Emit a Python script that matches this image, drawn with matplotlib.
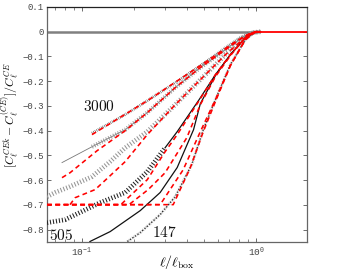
import numpy as np
import matplotlib
matplotlib.use("Agg")
import matplotlib.pyplot as plt
from matplotlib.ticker import FixedLocator, NullFormatter, LogLocator

plt.rcParams['mathtext.fontset'] = 'cm'

# ---------------- data ----------------
# data curves (black / gray)
d1_x = [0.114, 0.177, 0.237, 0.343, 0.478, 0.666, 0.812, 0.927, 1.06]
d1_y = [-0.41, -0.335, -0.279, -0.206, -0.137, -0.065, -0.024, -0.004, 0.0]

d2_x = [0.0767, 0.114, 0.177, 0.237, 0.343, 0.478, 0.666, 0.812, 0.95, 1.06]
d2_y = [-0.529, -0.465, -0.396, -0.327, -0.226, -0.145, -0.073, -0.028, -0.004, 0.0]

d3_x = [0.0629, 0.070, 0.0853, 0.114, 0.145, 0.177, 0.237, 0.343, 0.478, 0.666, 0.812, 0.95, 1.06]
d3_y = [-0.667, -0.650, -0.626, -0.586, -0.525, -0.469, -0.404, -0.295, -0.194, -0.093, -0.040, -0.004, 0.0]

d4_x = [0.0629, 0.0798, 0.127, 0.177, 0.237, 0.300, 0.352, 0.470, 0.583, 0.711, 0.867, 0.991, 1.06]
d4_y = [-0.772, -0.760, -0.691, -0.650, -0.566, -0.469, -0.404, -0.275, -0.174, -0.093, -0.024, 0.0, 0.0]

d5_x = [0.111, 0.145, 0.216, 0.281, 0.352, 0.437, 0.478, 0.583, 0.711, 0.867, 0.991, 1.06]
d5_y = [-0.848, -0.808, -0.723, -0.650, -0.549, -0.396, -0.291, -0.178, -0.093, -0.024, 0.0, 0.0]

d6_x = [0.182, 0.216, 0.281, 0.343, 0.427, 0.497, 0.583, 0.711, 0.867, 0.991, 1.06]
d6_y = [-0.848, -0.812, -0.739, -0.667, -0.537, -0.396, -0.275, -0.133, -0.032, 0.0, 0.0]

# red dashed fits
r1_x = [0.114, 0.237, 0.478, 0.760, 0.927, 1.06]
r1_y = [-0.416, -0.279, -0.137, -0.040, -0.006, 0.0]

r2_x = [0.0767, 0.0853, 0.122, 0.177, 0.237, 0.343, 0.478, 0.666, 0.867, 0.991, 1.06]
r2_y = [-0.590, -0.570, -0.481, -0.400, -0.327, -0.226, -0.145, -0.073, -0.016, 0.0, 0.0]

r3_x = [0.0853, 0.0912, 0.119, 0.141, 0.177, 0.237, 0.343, 0.478, 0.666, 0.812, 0.95, 1.06]
r3_y = [-0.699, -0.671, -0.638, -0.590, -0.525, -0.416, -0.295, -0.194, -0.093, -0.040, -0.004, 0.0]

r4_x = [0.0629, 0.167, 0.237, 0.300, 0.352, 0.470, 0.583, 0.711, 0.867, 0.991, 1.06]
r4_y = [-0.699, -0.699, -0.598, -0.485, -0.416, -0.279, -0.174, -0.093, -0.024, 0.0, 0.0]

r5_x = [0.0629, 0.334, 0.419, 0.497, 0.583, 0.711, 0.867, 0.991, 1.06]
r5_y = [-0.699, -0.699, -0.549, -0.404, -0.283, -0.137, -0.032, 0.0, 0.0]

r6_x = [0.0629, 0.186, 0.240, 0.300, 0.400, 0.478, 0.583, 0.711, 0.867, 0.991, 1.06]
r6_y = [-0.699, -0.699, -0.638, -0.570, -0.428, -0.295, -0.182, -0.097, -0.024, 0.0, 0.0]

r7_x = [0.0629, 0.281, 0.381, 0.478, 0.583, 0.711, 0.867, 0.991, 1.06]
r7_y = [-0.699, -0.699, -0.558, -0.404, -0.275, -0.137, -0.032, 0.0, 0.0]

zero_gray_x = [0.0629, 1.0]
zero_red_x = [1.0, 1.96]
zero_y = [0.0, 0.0]

y_ticks = [0.1, 0.0, -0.1, -0.2, -0.3, -0.4, -0.5, -0.6, -0.7, -0.8]
y_labels = ['0.1', '0', '\u22120.1', '\u22120.2', '\u22120.3', '\u22120.4',
            '\u22120.5', '\u22120.6', '\u22120.7', '\u22120.8']
x_ticks = [0.1, 1.0]
x_labels = [r'$\mathregular{10^{-1}}$', r'$\mathregular{10^{0}}$']

labels = ['3000', '505', '147']
label_x = [0.125, 0.0645, 0.296]
label_y = [-0.303, -0.822, -0.812]

# ---------------- figure ----------------
fig = plt.figure(figsize=(3.46, 2.74), dpi=100)
ax = fig.add_axes([47/346, 32/274, 260/346, 235/274])
ax.set_xscale('log')
ax.set_xlim(0.0629, 1.96)
ax.set_ylim(-0.85, 0.1)

gray = '#959595'
hatch = (0, (0.22, 0.42))

# zero lines
ax.plot(zero_gray_x, zero_y, color='#808080', lw=1.8, zorder=2)
ax.plot(zero_red_x, zero_y, color='red', lw=1.3, zorder=6)

# data curves
ax.plot(d1_x, d1_y, color='#555', lw=2.0, ls=hatch, zorder=3)

ax.plot(d2_x, d2_y, color='#777', lw=0.6, zorder=3)
ax.plot(d2_x[1:], d2_y[1:], color=gray, lw=3.0, ls=hatch, zorder=3)

ax.plot(d3_x, d3_y, color=gray, lw=3.4, ls=hatch, zorder=3)

ax.plot(d4_x[:6], d4_y[:6], color='#222', lw=3.4, ls=hatch, zorder=3)
ax.plot(d4_x[5:], d4_y[5:], color='#111', lw=0.9, zorder=3)

ax.plot(d5_x, d5_y, color='#111', lw=0.9, zorder=3)

ax.plot(d6_x, d6_y, color='#222', lw=1.0, ls=(0, (1, 1.2)), zorder=3)
ax.plot(d6_x, d6_y, color=gray, lw=2.2, ls=hatch, alpha=0.5, zorder=3)

# red fits
rdash = (0, (3.0, 2.2))
for rx, ry in [(r1_x, r1_y), (r2_x, r2_y), (r3_x, r3_y), (r4_x, r4_y),
               (r5_x, r5_y), (r6_x, r6_y), (r7_x, r7_y)]:
    ax.plot(rx, ry, color='red', lw=1.15, ls=rdash, zorder=5)

# text labels
for t, lx, ly in zip(labels, label_x, label_y):
    ax.text(lx, ly, '$' + t + '$', fontsize=11, ha='left' if t == '505' else 'center',
            va='center', color='#111')

# axes styling
ax.set_yticks(y_ticks)
ax.set_yticklabels(y_labels, fontfamily='Liberation Mono', fontsize=6.5, color='#444')
ax.xaxis.set_major_locator(FixedLocator(x_ticks))
ax.set_xticklabels(x_labels, fontfamily='Liberation Mono', fontsize=6.8, color='#444')
ax.xaxis.set_minor_locator(LogLocator(base=10, subs=np.arange(2, 10), numticks=10))
ax.xaxis.set_minor_formatter(NullFormatter())
ax.tick_params(which='both', direction='in', top=True, right=True, color='#555')
ax.tick_params(which='major', length=3, width=0.6, pad=3)
ax.tick_params(axis='y', which='major', pad=2.5)
ax.tick_params(which='minor', length=2, width=0.5)
for s in ax.spines.values():
    s.set_color('#666')
    s.set_linewidth(0.9)
ax.spines['top'].set_color('#222')

ax.set_ylabel(r'$[C_\ell^{CEk} - C_\ell^{(CE)}]/C_\ell^{CE}$', fontsize=8.5)
ax.yaxis.set_label_coords(-0.096, 0.54)
ax.set_xlabel(r'$\ell/\ell_{\rm box}$', fontsize=10)
ax.xaxis.set_label_coords(0.5, -0.045)

fig.savefig('out.png', dpi=100)
